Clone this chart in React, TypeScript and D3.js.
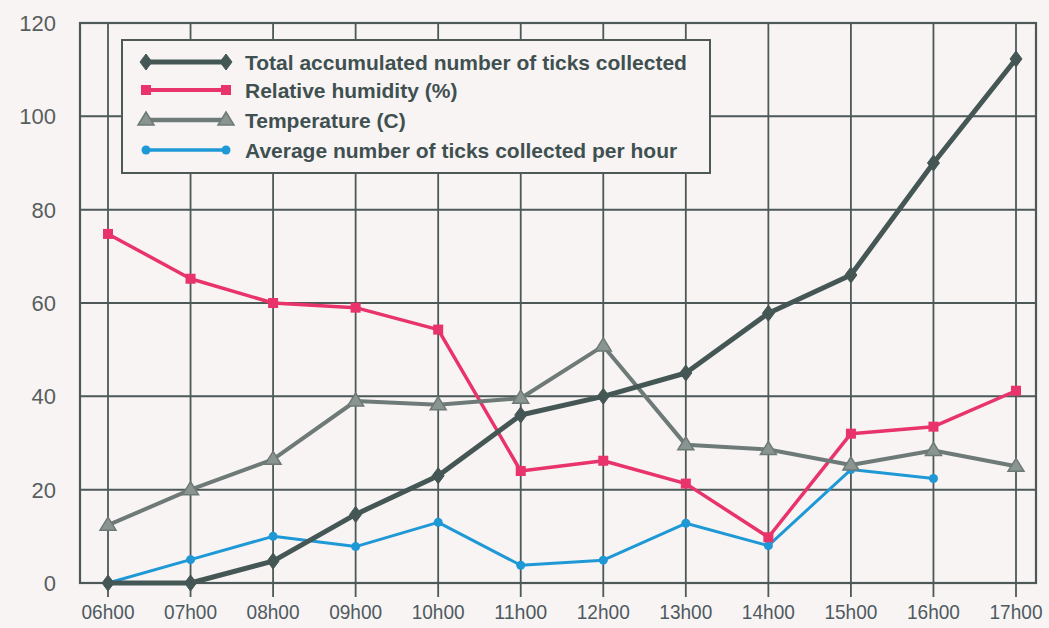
import React from "react";
import * as d3 from "d3";

const hours = ["06h00","07h00","08h00","09h00","10h00","11h00","12h00","13h00","14h00","15h00","16h00","17h00"];
const totalTicks = [0, 0, 4.7, 14.7, 23, 36, 40, 45, 57.8, 66, 90, 112.3];
const humidity = [74.8, 65.2, 60, 59, 54.3, 24, 26.2, 21.3, 9.8, 32, 33.5, 41.2];
const temperature = [12.4, 20, 26.5, 39, 38.2, 39.6, 50.8, 29.6, 28.6, 25.3, 28.4, 25];
const avgPerHour: (number | null)[] = [0, 5, 10, 7.8, 13, 3.8, 4.9, 12.8, 8, 24.3, 22.4, null];
const yTicks = [0, 20, 40, 60, 80, 100, 120];

const legendLabels = [
  "Total accumulated number of ticks collected",
  "Relative humidity (%)",
  "Temperature (C)",
  "Average number of ticks collected per hour",
];

const W = 1049, H = 628;
const frame = { left: 80, right: 1036, top: 23, bottom: 583 };

const x = d3.scalePoint<string>().domain(hours).range([108, 1016]);
const y = d3.scaleLinear().domain([0, 120]).range([frame.bottom, frame.top]);

const C_TOTAL = "#455755";
const C_HUM = "#e8336b";
const C_TEMP = "#6e7a77";
const C_AVG = "#1f98d6";
const C_GRID = "#4d5957";

type Shape = "diamond" | "square" | "triangle" | "circle";

function Marker({ shape, cx, cy, color }: { shape: Shape; cx: number; cy: number; color: string }) {
  if (shape === "diamond") {
    const p = `${cx},${cy - 8} ${cx + 6},${cy} ${cx},${cy + 8} ${cx - 6},${cy}`;
    return <polygon points={p} fill={color} stroke={color} strokeWidth={1} />;
  }
  if (shape === "square") {
    return <rect x={cx - 5} y={cy - 5} width={10} height={10} fill={color} />;
  }
  if (shape === "triangle") {
    const p = `${cx},${cy - 8} ${cx + 8},${cy + 5} ${cx - 8},${cy + 5}`;
    return <polygon points={p} fill="#8a9592" stroke={color} strokeWidth={1.5} />;
  }
  return <circle cx={cx} cy={cy} r={4.5} fill={color} />;
}

function Series({ values, color, width, shape }: { values: (number | null)[]; color: string; width: number; shape: Shape }) {
  const line = d3
    .line<number | null>()
    .defined((d) => d !== null)
    .x((_, i) => x(hours[i]) as number)
    .y((d) => y(d as number));
  return (
    <g>
      <path d={line(values) || ""} fill="none" stroke={color} strokeWidth={width} strokeLinejoin="round" />
      {values.map((v, i) =>
        v === null ? null : <Marker key={i} shape={shape} cx={x(hours[i]) as number} cy={y(v)} color={color} />
      )}
    </g>
  );
}

export default function App() {
  const legendItems: { color: string; width: number; shape: Shape }[] = [
    { color: C_TOTAL, width: 5, shape: "diamond" },
    { color: C_HUM, width: 4, shape: "square" },
    { color: C_TEMP, width: 4.5, shape: "triangle" },
    { color: C_AVG, width: 3.5, shape: "circle" },
  ];
  const legendY = [62, 90, 120, 150];
  return (
    <svg width={W} height={H} style={{ position: "absolute", left: 0, top: 0, background: "#f8f4f4" }}
      fontFamily="'Liberation Sans', Arial, sans-serif">
      <rect x={0} y={0} width={W} height={H} fill="#f8f4f4" />
      {/* horizontal grid */}
      {yTicks.map((t) => (
        <line key={t} x1={frame.left} x2={frame.right} y1={y(t)} y2={y(t)} stroke={C_GRID} strokeWidth={2} />
      ))}
      {/* vertical grid with ticks below */}
      {hours.map((h) => (
        <line key={h} x1={x(h)} x2={x(h)} y1={frame.top} y2={frame.bottom + 14} stroke={C_GRID} strokeWidth={1.8} />
      ))}
      <rect x={frame.left} y={frame.top} width={frame.right - frame.left} height={frame.bottom - frame.top}
        fill="none" stroke={C_GRID} strokeWidth={2.2} />
      {/* y tick labels */}
      {yTicks.map((t) => (
        <text key={t} x={56} y={y(t)} dy="0.36em" textAnchor="end" fontSize={22} fill="#585e5d">{t}</text>
      ))}
      {/* x tick labels */}
      {hours.map((h) => (
        <text key={h} x={x(h)} y={611} dy="0.36em" textAnchor="middle" fontSize={21} fill="#4f5a60"
          textLength={53} lengthAdjust="spacingAndGlyphs">{h}</text>
      ))}
      {/* series */}
      <Series values={avgPerHour} color={C_AVG} width={3} shape="circle" />
      <Series values={humidity} color={C_HUM} width={3.5} shape="square" />
      <Series values={temperature} color={C_TEMP} width={4} shape="triangle" />
      <Series values={totalTicks} color={C_TOTAL} width={5} shape="diamond" />
      {/* legend */}
      <rect x={122} y={40} width={588} height={133} fill="#f8f4f4" stroke={C_GRID} strokeWidth={2} />
      {legendItems.map((it, i) => (
        <g key={i}>
          <line x1={146} x2={226} y1={legendY[i]} y2={legendY[i]} stroke={it.color} strokeWidth={it.width} />
          <Marker shape={it.shape} cx={146} cy={legendY[i]} color={it.color} />
          <Marker shape={it.shape} cx={226} cy={legendY[i]} color={it.color} />
          <text x={245} y={legendY[i]} dy="0.36em" fontSize={21} fontWeight="bold" fill="#3f5050">{legendLabels[i]}</text>
        </g>
      ))}
    </svg>
  );
}
